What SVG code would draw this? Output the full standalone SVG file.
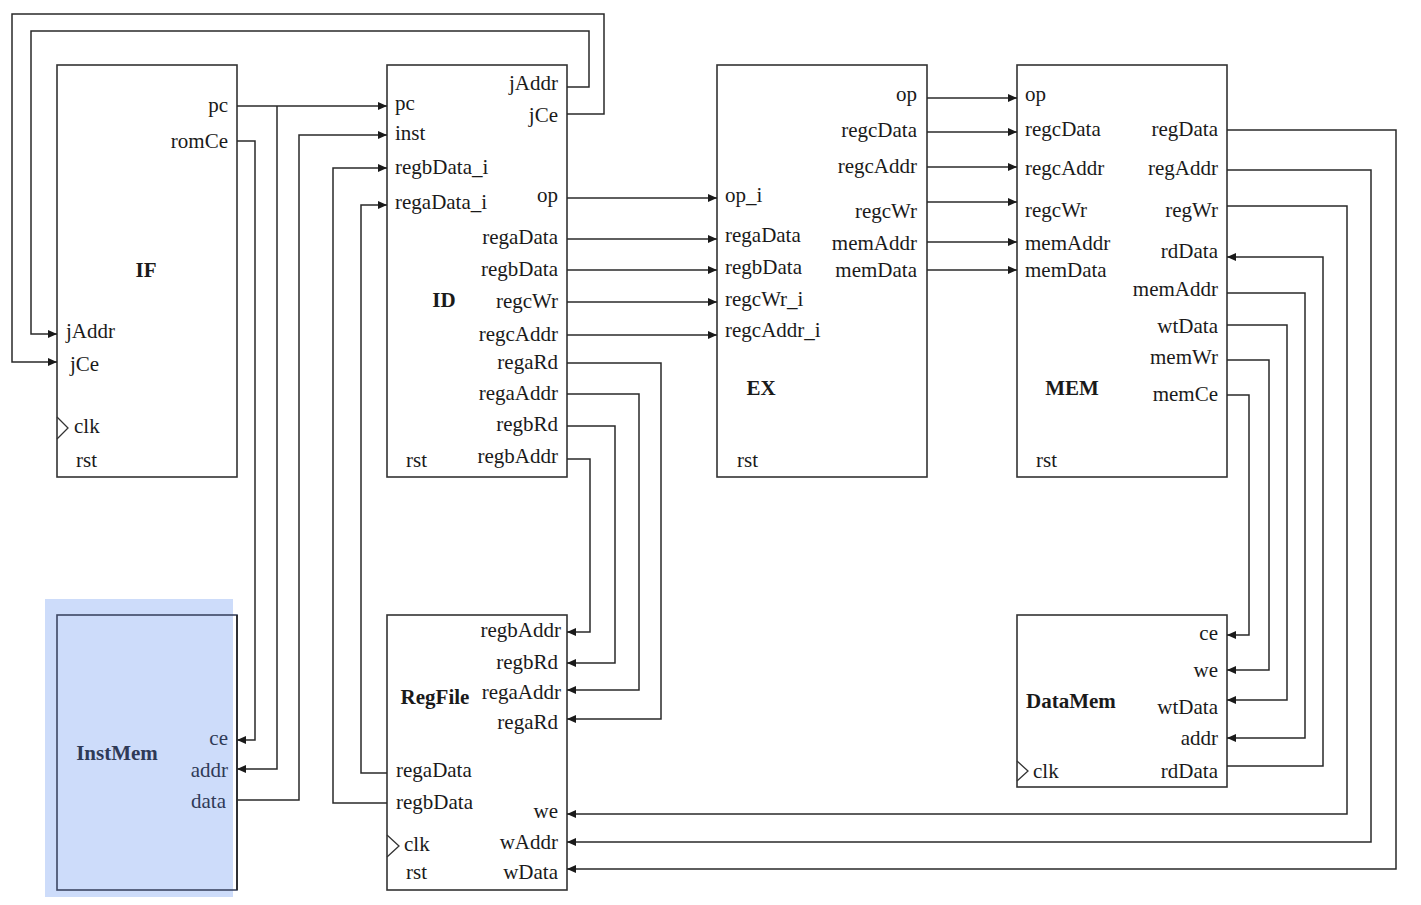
<svg xmlns="http://www.w3.org/2000/svg" width="1421" height="905" viewBox="0 0 1421 905">
<style>
  .box { fill: #ffffff; stroke: #333333; stroke-width: 1.6; }
  .w { fill: none; stroke: #2a2a2a; stroke-width: 1.5; }
  .a { marker-end: url(#arr); }
  text { font-family: "Liberation Serif", "Times New Roman", serif; font-size: 21px; fill: #1a1a1a; }
  .r { text-anchor: end; }
  .t { font-weight: bold; }
  .c { text-anchor: middle; }
  .clk { fill: none; stroke: #333333; stroke-width: 1.3; }
  .im { fill: #2f3a57; }
</style>
<defs>
  <marker id="arr" markerUnits="userSpaceOnUse" markerWidth="9" markerHeight="8" refX="9" refY="4" orient="auto">
    <path d="M0,0 L9,4 L0,8 z" fill="#1a1a1a"/>
  </marker>
</defs>

<rect x="45" y="599" width="188" height="298" fill="#cddcfa"/>

<g id="IF">
  <rect class="box" x="57" y="65" width="180" height="412"/>
  <text class="t c" x="146" y="277">IF</text>
  <text class="r" x="228" y="112">pc</text>
  <text class="r" x="228" y="148">romCe</text>
  <text x="66" y="338">jAddr</text>
  <text x="70" y="371">jCe</text>
  <path class="clk" d="M57,417 L68,428 L57,439"/>
  <text x="74" y="433">clk</text>
  <text x="76" y="467">rst</text>
</g>

<g id="ID">
  <rect class="box" x="387" y="65" width="180" height="412"/>
  <text class="t c" x="444" y="307">ID</text>
  <text x="395" y="110">pc</text>
  <text x="395" y="140">inst</text>
  <text x="395" y="174">regbData_i</text>
  <text x="395" y="209">regaData_i</text>
  <text class="r" x="558" y="90">jAddr</text>
  <text class="r" x="558" y="122">jCe</text>
  <text class="r" x="558" y="202">op</text>
  <text class="r" x="558" y="244">regaData</text>
  <text class="r" x="558" y="276">regbData</text>
  <text class="r" x="558" y="308">regcWr</text>
  <text class="r" x="558" y="341">regcAddr</text>
  <text class="r" x="558" y="369">regaRd</text>
  <text class="r" x="558" y="400">regaAddr</text>
  <text class="r" x="558" y="431">regbRd</text>
  <text class="r" x="558" y="463">regbAddr</text>
  <text x="406" y="467">rst</text>
</g>

<g id="EX">
  <rect class="box" x="717" y="65" width="210" height="412"/>
  <text class="t c" x="761" y="395">EX</text>
  <text x="725" y="202">op_i</text>
  <text x="725" y="242">regaData</text>
  <text x="725" y="274">regbData</text>
  <text x="725" y="306">regcWr_i</text>
  <text x="725" y="337">regcAddr_i</text>
  <text class="r" x="917" y="101">op</text>
  <text class="r" x="917" y="137">regcData</text>
  <text class="r" x="917" y="173">regcAddr</text>
  <text class="r" x="917" y="218">regcWr</text>
  <text class="r" x="917" y="250">memAddr</text>
  <text class="r" x="917" y="277">memData</text>
  <text x="737" y="467">rst</text>
</g>

<g id="MEM">
  <rect class="box" x="1017" y="65" width="210" height="412"/>
  <text class="t c" x="1072" y="395">MEM</text>
  <text x="1025" y="101">op</text>
  <text x="1025" y="136">regcData</text>
  <text x="1025" y="175">regcAddr</text>
  <text x="1025" y="217">regcWr</text>
  <text x="1025" y="250">memAddr</text>
  <text x="1025" y="277">memData</text>
  <text class="r" x="1218" y="136">regData</text>
  <text class="r" x="1218" y="175">regAddr</text>
  <text class="r" x="1218" y="217">regWr</text>
  <text class="r" x="1218" y="258">rdData</text>
  <text class="r" x="1218" y="296">memAddr</text>
  <text class="r" x="1218" y="333">wtData</text>
  <text class="r" x="1218" y="364">memWr</text>
  <text class="r" x="1218" y="401">memCe</text>
  <text x="1036" y="467">rst</text>
</g>

<g id="InstMem">
  <rect x="57" y="615" width="180" height="275" fill="none" stroke="#3d4763" stroke-width="1.6"/>
  <line x1="237" y1="615" x2="237" y2="890" stroke="#222222" stroke-width="1.6"/>
  <text class="t c im" x="117" y="760">InstMem</text>
  <text class="r im" x="228" y="745">ce</text>
  <text class="r im" x="228" y="777">addr</text>
  <text class="r im" x="226" y="808">data</text>
</g>

<g id="RegFile">
  <rect class="box" x="387" y="615" width="180" height="275"/>
  <text class="t c" x="435" y="704">RegFile</text>
  <text class="r" x="561" y="637">regbAddr</text>
  <text class="r" x="558" y="669">regbRd</text>
  <text class="r" x="561" y="699">regaAddr</text>
  <text class="r" x="558" y="729">regaRd</text>
  <text x="396" y="777">regaData</text>
  <text x="396" y="809">regbData</text>
  <text class="r" x="558" y="818">we</text>
  <text class="r" x="558" y="849">wAddr</text>
  <text class="r" x="558" y="879">wData</text>
  <path class="clk" d="M387,835 L399,846 L387,857"/>
  <text x="404" y="851">clk</text>
  <text x="406" y="879">rst</text>
</g>

<g id="DataMem">
  <rect class="box" x="1017" y="615" width="210" height="172"/>
  <text class="t" x="1026" y="708">DataMem</text>
  <text class="r" x="1218" y="640">ce</text>
  <text class="r" x="1218" y="677">we</text>
  <text class="r" x="1218" y="714">wtData</text>
  <text class="r" x="1218" y="745">addr</text>
  <text class="r" x="1218" y="778">rdData</text>
  <path class="clk" d="M1017,761 L1028,771 L1017,781"/>
  <text x="1033" y="778">clk</text>
</g>

<g id="connectors">
  <polyline class="w a" points="567,87 589,87 589,31 31,31 31,334 57,334"/>
  <polyline class="w a" points="567,114 604,114 604,14 12,14 12,362 57,362"/>
  <polyline class="w a" points="237,106 387,106"/>
  <polyline class="w a" points="277,106 277,769 237,769"/>
  <polyline class="w a" points="237,141 255,141 255,740 237,740"/>
  <polyline class="w a" points="237,800 299,800 299,135 387,135"/>
  <polyline class="w a" points="387,803 333,803 333,168 387,168"/>
  <polyline class="w a" points="387,773 361,773 361,205 387,205"/>

  <polyline class="w a" points="567,198 717,198"/>
  <polyline class="w a" points="567,239 717,239"/>
  <polyline class="w a" points="567,270 717,270"/>
  <polyline class="w a" points="567,302 717,302"/>
  <polyline class="w a" points="567,335 717,335"/>

  <polyline class="w a" points="567,363 661,363 661,719 567,719"/>
  <polyline class="w a" points="567,394 639,394 639,690 567,690"/>
  <polyline class="w a" points="567,426 615,426 615,663 567,663"/>
  <polyline class="w a" points="567,459 590,459 590,632 567,632"/>

  <polyline class="w a" points="927,98 1017,98"/>
  <polyline class="w a" points="927,132 1017,132"/>
  <polyline class="w a" points="927,167 1017,167"/>
  <polyline class="w a" points="927,202 1017,202"/>
  <polyline class="w a" points="927,242 1017,242"/>
  <polyline class="w a" points="927,270 1017,270"/>

  <polyline class="w a" points="1227,130 1396,130 1396,869 567,869"/>
  <polyline class="w a" points="1227,170 1371,170 1371,842 567,842"/>
  <polyline class="w a" points="1227,206 1347,206 1347,814 567,814"/>
  <polyline class="w a" points="1227,766 1323,766 1323,257 1227,257"/>
  <polyline class="w a" points="1227,293 1305,293 1305,738 1227,738"/>
  <polyline class="w a" points="1227,325 1287,325 1287,700 1227,700"/>
  <polyline class="w a" points="1227,360 1269,360 1269,670 1227,670"/>
  <polyline class="w a" points="1227,395 1249,395 1249,635 1227,635"/>
</g>
</svg>
